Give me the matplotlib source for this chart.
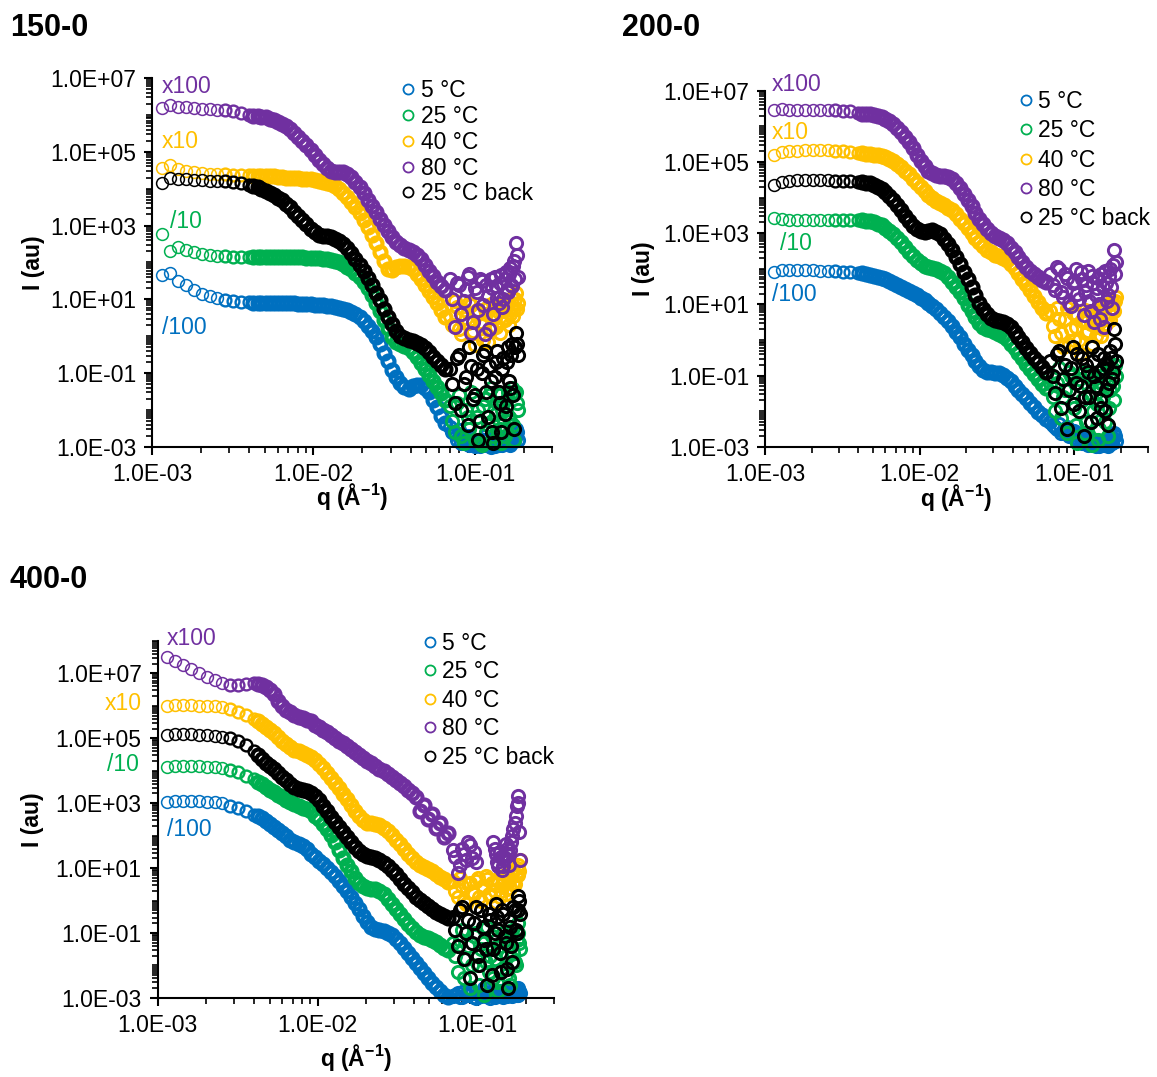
import numpy as np
import matplotlib
matplotlib.use('Agg')
import matplotlib.pyplot as plt
from matplotlib.ticker import FixedLocator, FuncFormatter, NullFormatter

plt.rcParams['font.family'] = ['Liberation Sans', 'DejaVu Sans']
plt.rcParams['mathtext.fontset'] = 'custom'
plt.rcParams['mathtext.rm'] = 'Liberation Sans'
plt.rcParams['mathtext.bf'] = 'Liberation Sans:bold'

nan = float('nan')

# ---------------- data: q (1/Angstrom) and log10 of the plotted intensities ----------------
q_low = [0.00115, 0.00129, 0.00144, 0.00162, 0.00181, 0.00203, 0.00227, 0.00254, 0.00285, 0.00319,
         0.00357, 0.0040]
q_mid = [0.00424, 0.00450, 0.00476, 0.00505, 0.00535, 0.00568, 0.00601, 0.00637, 0.00676, 0.00716,
         0.00759, 0.00805, 0.00853, 0.00904, 0.00959, 0.01016, 0.01076, 0.01140, 0.01211, 0.01282,
         0.01358, 0.01442, 0.01528, 0.01618, 0.01718, 0.01820, 0.01928, 0.02042, 0.02168, 0.02296,
         0.02432, 0.02582, 0.02735, 0.02897, 0.03076, 0.03258, 0.03451, 0.03656, 0.03882, 0.04111,
         0.04355, 0.04624, 0.04898, 0.05188, 0.05508, 0.05834, 0.06180, 0.06546]
q_tail = [0.070, 0.075, 0.080, 0.085, 0.090, 0.095, 0.100, 0.105, 0.110, 0.115, 0.120, 0.125,
          0.130, 0.135, 0.140, 0.145, 0.150, 0.155, 0.160, 0.165, 0.170, 0.175, 0.180, 0.185]
q_tail2 = [0.0725, 0.0775, 0.0825, 0.0875, 0.0925, 0.0975, 0.1025, 0.1075, 0.1125, 0.1175, 0.1225,
           0.1275, 0.1325, 0.1375, 0.1425, 0.1475, 0.1525, 0.1575, 0.1625, 0.1675, 0.1725, 0.1775,
           0.1825]
q_values = q_low + q_mid + q_tail + q_tail2

series_labels = ['5 °C', '25 °C', '40 °C', '80 °C', '25 °C back']
series_colors = ['#0070C0', '#00B050', '#FFC000', '#7030A0', '#000000']

# ---- panel 150-0 ----
logI_150_5C = [1.66, 1.72, 1.50, 1.38, 1.25, 1.15, 1.08, 1.03, 0.98, 0.95, 0.93, 0.92] + \
    [0.91, 0.91, 0.91, 0.90, 0.90, 0.90, 0.90, 0.90, 0.89, 0.89, 0.89, 0.88, 0.88, 0.87, 0.87, 0.86,
     0.85, 0.84, 0.83, 0.81, 0.79, 0.77, 0.74, 0.70, 0.65, 0.59, 0.51, 0.41, 0.29, 0.15, -0.02, -0.22,
     -0.45, -0.68, -0.91, -1.10, -1.26, -1.38, -1.43, -1.36, -1.32, -1.33, -1.40, -1.52, -1.72, -1.93,
     -2.15, -2.35] + \
    [-2.45, -2.65, -2.55, -2.8, -2.7, -2.9, -2.97, -2.85, -2.95, -2.7, -2.9, -2.99, -2.8, -2.9, -2.95,
     -2.75, -2.85, -2.9, -2.7, -2.95, -2.6, -2.85, -2.5, -2.8] + \
    [-2.6, -2.8, -2.9, -2.75, -2.95, -2.85, -2.9, -2.98, -2.8, -2.95, -2.9, -2.85, -2.97, -2.8, -2.9,
     -2.95, -2.85, -2.7, -2.9, -2.8, -2.65, -2.75, -2.6]
logI_150_25C = [2.77, 2.31, 2.42, 2.33, 2.28, 2.24, 2.20, 2.18, 2.17, 2.16, 2.16, 2.16] + \
    [2.16, 2.16, 2.16, 2.16, 2.16, 2.16, 2.15, 2.15, 2.15, 2.15, 2.14, 2.14, 2.14, 2.13, 2.13, 2.12,
     2.11, 2.10, 2.09, 2.07, 2.04, 2.00, 1.95, 1.89, 1.81, 1.72, 1.61, 1.48, 1.32, 1.12, 0.90, 0.68,
     0.45, 0.22, -0.02, -0.15, -0.22, -0.26, -0.32, -0.42, -0.56, -0.72, -0.88, -1.05, -1.22, -1.38,
     -1.55, -1.72] + \
    [-1.9, -2.6, -1.6, -2.9, -2.2, -1.5, -2.8, -2.0, -2.95, -1.7, -2.4, -1.4, -2.7, -2.1, -1.6, -2.9,
     -1.8, -2.5, -1.5, -2.3, -1.4, -2.8, -1.5, -2.0] + \
    [-2.3, -1.8, -2.7, -2.0, -2.5, -1.7, -2.2, -2.9, -1.9, -2.6, -1.6, -2.3, -2.85, -1.8, -2.5, -2.0,
     -2.7, -1.7, -2.2, -1.6, -2.4, -1.5, -1.8]
logI_150_40C = [4.56, 4.64, 4.52, 4.47, 4.44, 4.42, 4.41, 4.40, 4.39, 4.38, 4.37, 4.36] + \
    [4.35, 4.35, 4.34, 4.34, 4.33, 4.33, 4.32, 4.31, 4.30, 4.30, 4.29, 4.28, 4.27, 4.26, 4.25, 4.24,
     4.22, 4.19, 4.16, 4.12, 4.06, 3.98, 3.89, 3.78, 3.65, 3.50, 3.33, 3.15, 2.95, 2.74, 2.52, 2.29,
     2.05, 1.81, 1.80, 1.87, 1.91, 1.91, 1.89, 1.81, 1.69, 1.54, 1.39, 1.24, 1.07, 0.89, 0.71, 0.53] + \
    [0.55, 0.95, 0.20, 0.70, 0.35, 0.85, -0.25, 0.60, 0.30, 0.75, -0.15, 0.55, 0.90, 0.25, 0.65, 0.40,
     0.85, 0.50, 0.95, 0.60, 1.05, 0.75, 1.17, 0.90] + \
    [0.3, 0.8, 0.05, 0.5, 0.9, 0.15, 0.7, 0.4, -0.1, 0.6, 0.85, 0.2, 0.5, 0.8, 0.1, 0.7, 0.45, 0.9,
     0.3, 0.8, 0.55, 1.0, 0.75]
logI_150_80C = [6.19, 6.27, 6.22, 6.20, 6.18, 6.17, 6.15, 6.14, 6.12, 6.10, 6.06, 6.01] + \
    [5.98, 5.96, 5.94, 5.93, 5.90, 5.86, 5.82, 5.76, 5.70, 5.62, 5.52, 5.41, 5.29, 5.17, 5.04, 4.90,
     4.78, 4.66, 4.55, 4.49, 4.46, 4.46, 4.44, 4.40, 4.31, 4.18, 4.04, 3.87, 3.70, 3.53, 3.36, 3.19,
     3.02, 2.85, 2.70, 2.56, 2.46, 2.38, 2.34, 2.28, 2.20, 2.09, 1.93, 1.77, 1.62, 1.48, 1.36, 1.25] + \
    [1.55, 0.25, 1.40, 0.95, 1.60, 0.10, 1.30, 0.70, 1.50, 0.05, 1.10, 1.55, 0.60, 1.35, 0.90, 1.65,
     1.00, 1.75, 1.20, 1.85, 1.35, 2.05, 2.53, 1.60] + \
    [1.0, 1.45, 0.6, 1.25, 1.70, 0.40, 1.20, 1.55, 0.85, 1.40, 0.20, 1.30, 1.60, 1.05, 1.45, 0.80,
     1.55, 1.25, 1.70, 1.40, 1.90, 1.55, 2.20]
logI_150_25Cb = [4.16, 4.30, 4.26, 4.25, 4.24, 4.23, 4.22, 4.21, 4.20, 4.18, 4.15, 4.10] + \
    [4.07, 4.04, 3.99, 3.95, 3.89, 3.83, 3.76, 3.68, 3.59, 3.49, 3.38, 3.27, 3.15, 3.03, 2.92, 2.82,
     2.75, 2.73, 2.71, 2.68, 2.64, 2.57, 2.49, 2.38, 2.25, 2.10, 1.94, 1.77, 1.58, 1.38, 1.18, 0.97,
     0.75, 0.53, 0.33, 0.15, 0.02, -0.06, -0.10, -0.13, -0.17, -0.24, -0.33, -0.43, -0.55, -0.66,
     -0.78, -0.90] + \
    [-0.9, -1.8, -0.5, -1.3, -2.4, -0.8, -1.6, -2.8, -1.0, -0.4, -2.2, -1.2, -2.9, -0.7, -1.5, -2.6,
     -0.6, -1.9, -0.3, -1.4, -0.2, -2.5, 0.1, -0.5] + \
    [-1.3, -0.6, -2.0, -1.1, -0.3, -1.7, -0.9, -2.3, -0.5, -1.5, -0.8, -2.6, -1.1, -0.4, -1.8, -0.9,
     -2.1, -0.7, -1.2, -0.5, -1.6, -0.3, -0.2]

# ---- panel 200-0 ----
logI_200_5C = [1.92, 1.96, 1.96, 1.97, 1.96, 1.96, 1.95, 1.94, 1.93, 1.92, 1.90, 1.88] + \
    [1.87, 1.85, 1.83, 1.80, 1.78, 1.74, 1.70, 1.65, 1.61, 1.55, 1.50, 1.44, 1.38, 1.32, 1.25, 1.19,
     1.11, 1.04, 0.95, 0.86, 0.76, 0.64, 0.52, 0.38, 0.23, 0.07, -0.10, -0.27, -0.43, -0.59, -0.73,
     -0.84, -0.89, -0.91, -0.92, -0.94, -0.99, -1.06, -1.16, -1.28, -1.40, -1.52, -1.64, -1.76, -1.89,
     -2.01, -2.12, -2.23] + \
    [-2.3, -2.45, -2.35, -2.55, -2.45, -2.65, -2.55, -2.75, -2.65, -2.85, -2.75, -2.9, -2.8, -2.95,
     -2.85, -2.98, -2.9, -2.95, -2.8, -2.97, -2.7, -2.9, -2.6, -2.85] + \
    [-2.4, -2.5, -2.6, -2.55, -2.7, -2.6, -2.8, -2.7, -2.9, -2.8, -2.95, -2.85, -2.9, -2.98, -2.85,
     -2.95, -2.9, -2.85, -2.95, -2.8, -2.9, -2.75, -2.7]
logI_200_25C = [3.42, 3.39, 3.38, 3.38, 3.38, 3.38, 3.38, 3.38, 3.38, 3.38, 3.38, 3.37] + \
    [3.37, 3.35, 3.33, 3.30, 3.27, 3.22, 3.15, 3.07, 2.98, 2.86, 2.74, 2.61, 2.48, 2.36, 2.24, 2.15,
     2.08, 2.05, 2.03, 2.00, 1.95, 1.88, 1.78, 1.64, 1.50, 1.34, 1.17, 0.99, 0.81, 0.64, 0.48, 0.37,
     0.30, 0.27, 0.23, 0.18, 0.12, 0.02, -0.10, -0.23, -0.37, -0.52, -0.67, -0.82, -0.97, -1.11,
     -1.24, -1.36] + \
    [-1.2, -2.0, -0.8, -1.6, -2.6, -1.0, -1.9, -2.9, -1.3, -0.9, -2.3, -1.5, -2.95, -1.1, -1.8, -2.5,
     -1.2, -2.0, -0.9, -2.7, -1.4, -0.8, -1.7, -1.0] + \
    [-1.6, -1.2, -2.2, -1.4, -0.9, -1.8, -2.4, -1.1, -1.7, -2.6, -1.3, -0.9, -2.0, -1.5, -2.8, -1.0,
     -1.6, -2.3, -1.2, -1.9, -0.9, -1.3, -0.7]
logI_200_40C = [5.19, 5.28, 5.30, 5.32, 5.33, 5.33, 5.33, 5.33, 5.32, 5.31, 5.29, 5.26] + \
    [5.24, 5.23, 5.22, 5.21, 5.19, 5.17, 5.14, 5.09, 5.03, 4.95, 4.87, 4.76, 4.65, 4.53, 4.41, 4.29,
     4.18, 4.08, 3.99, 3.91, 3.84, 3.79, 3.72, 3.64, 3.54, 3.41, 3.28, 3.15, 3.01, 2.87, 2.74, 2.63,
     2.53, 2.46, 2.40, 2.36, 2.31, 2.24, 2.13, 2.01, 1.87, 1.72, 1.56, 1.40, 1.23, 1.06, 0.90, 0.75] + \
    [0.8, 0.1, 0.6, -0.2, 0.9, 0.3, 0.0, 0.7, -0.4, 0.5, 0.2, 0.8, -0.1, 0.6, 0.35, 0.9, 0.1, 0.7,
     0.45, 1.0, 0.55, 1.1, 0.8, 1.2] + \
    [0.4, 0.9, 0.2, 0.6, -0.1, 0.75, 0.35, 0.0, 0.55, 0.85, 0.25, 0.45, 0.7, 0.1, 0.8, 0.5, 0.3, 0.9,
     0.6, 0.75, 1.0, 0.85, 1.1]
logI_200_80C = [6.45, 6.50, 6.47, 6.46, 6.46, 6.46, 6.46, 6.45, 6.45, 6.44, 6.42, 6.39] + \
    [6.36, 6.35, 6.34, 6.32, 6.29, 6.26, 6.21, 6.15, 6.06, 5.96, 5.84, 5.70, 5.55, 5.38, 5.21, 5.04,
     4.88, 4.76, 4.68, 4.63, 4.61, 4.60, 4.58, 4.51, 4.40, 4.26, 4.10, 3.93, 3.76, 3.58, 3.41, 3.25,
     3.11, 3.00, 2.93, 2.87, 2.81, 2.71, 2.59, 2.46, 2.32, 2.18, 2.05, 1.94, 1.84, 1.76, 1.68, 1.62] + \
    [1.85, 1.40, 2.00, 1.20, 1.75, 0.95, 1.65, 1.30, 1.90, 0.70, 1.55, 1.10, 1.80, 0.50, 1.45, 1.00,
     1.85, 0.35, 1.60, 1.25, 2.00, 0.90, 2.52, 2.20] + \
    [1.55, 2.05, 1.35, 1.85, 1.05, 1.60, 2.00, 1.15, 1.70, 1.35, 1.95, 0.80, 1.60, 1.25, 1.75, 0.60,
     1.50, 1.95, 1.10, 1.80, 1.50, 2.10, 1.85]
logI_200_25Cb = [4.36, 4.44, 4.47, 4.48, 4.48, 4.48, 4.48, 4.48, 4.47, 4.47, 4.46, 4.45] + \
    [4.44, 4.42, 4.40, 4.36, 4.30, 4.24, 4.15, 4.05, 3.93, 3.79, 3.64, 3.49, 3.34, 3.21, 3.11, 3.05,
     3.04, 3.07, 3.08, 3.04, 2.97, 2.85, 2.70, 2.52, 2.33, 2.12, 1.92, 1.70, 1.48, 1.26, 1.05, 0.87,
     0.72, 0.62, 0.57, 0.54, 0.51, 0.45, 0.36, 0.23, 0.08, -0.07, -0.22, -0.36, -0.50, -0.63, -0.76,
     -0.89] + \
    [-0.6, -1.5, -0.3, -1.1, -2.5, -0.8, -1.8, -0.4, -1.3, -2.7, -0.7, -1.6, -0.2, -1.0, -2.2, -0.9,
     -1.9, -0.5, -1.4, -2.4, -0.3, -1.1, 0.3, -0.6] + \
    [-1.0, -0.4, -1.9, -0.7, -1.4, -0.2, -1.2, -2.0, -0.5, -1.6, -0.9, -2.3, -0.6, -1.3, -0.4, -1.7,
     -0.8, -2.0, -0.7, -1.2, -0.5, -0.9, -0.1]

# ---- panel 400-0 ----
logI_400_5C = [3.05, 3.07, 3.07, 3.07, 3.06, 3.05, 3.03, 3.00, 2.92, 2.85, 2.76, 2.65] + \
    [2.60, 2.53, 2.45, 2.37, 2.28, 2.18, 2.08, 1.98, 1.88, 1.80, 1.73, 1.67, 1.60, 1.45, 1.34, 1.23,
     1.12, 1.01, 0.89, 0.75, 0.61, 0.45, 0.29, 0.12, -0.07, -0.26, -0.47, -0.66, -0.81, -0.88, -0.91,
     -0.94, -0.99, -1.07, -1.18, -1.32, -1.46, -1.62, -1.77, -1.92, -2.08, -2.23, -2.39, -2.54,
     -2.67, -2.79, -2.90, -2.98] + \
    [-2.95, -2.85, -2.98, -2.9, -2.8, -2.97, -2.88, -2.95, -2.7, -2.92, -2.99, -2.85, -2.95, -2.9,
     -2.8, -2.97, -2.85, -2.9, -2.75, -2.95, -2.8, -2.9, -2.7, -2.85] + \
    [-2.9, -2.97, -2.8, -2.92, -2.85, -2.99, -2.9, -2.8, -2.95, -2.88, -2.9, -2.97, -2.8, -2.95, -2.9,
     -2.85, -2.95, -2.8, -2.9, -2.85, -2.75, -2.9, -2.8]
logI_400_25C = [4.13, 4.15, 4.15, 4.15, 4.14, 4.13, 4.11, 4.08, 4.02, 3.95, 3.85, 3.75] + \
    [3.66, 3.58, 3.50, 3.42, 3.34, 3.26, 3.18, 3.10, 3.03, 2.97, 2.91, 2.86, 2.81, 2.75, 2.62, 2.50,
     2.36, 2.20, 2.02, 1.80, 1.55, 1.31, 1.10, 0.90, 0.69, 0.53, 0.44, 0.40, 0.37, 0.35, 0.30, 0.20,
     0.05, -0.10, -0.25, -0.40, -0.56, -0.71, -0.85, -0.97, -1.06, -1.11, -1.16, -1.22, -1.29, -1.36,
     -1.45, -1.53] + \
    [-1.3, -2.2, -0.9, -1.8, -2.7, -1.1, -2.0, -1.5, -2.9, -0.8, -1.7, -2.4, -1.2, -2.8, -1.6, -1.0,
     -2.3, -1.4, -2.6, -0.9, -1.9, -1.2, -0.7, -1.5] + \
    [-1.7, -1.2, -2.4, -1.4, -2.0, -1.0, -2.6, -1.3, -1.9, -2.2, -1.1, -1.8, -2.5, -1.4, -2.1, -1.2,
     -1.7, -2.4, -1.1, -1.6, -2.0, -1.0, -1.3]
logI_400_40C = [5.99, 6.02, 6.02, 6.02, 6.01, 6.00, 5.98, 5.95, 5.90, 5.82, 5.72, 5.60] + \
    [5.53, 5.45, 5.36, 5.27, 5.16, 5.05, 4.93, 4.82, 4.72, 4.65, 4.60, 4.55, 4.49, 4.42, 4.32, 4.20,
     4.07, 3.93, 3.78, 3.62, 3.46, 3.29, 3.12, 2.95, 2.77, 2.61, 2.47, 2.40, 2.38, 2.36, 2.32, 2.25,
     2.15, 2.02, 1.88, 1.74, 1.58, 1.44, 1.31, 1.19, 1.10, 1.03, 0.97, 0.90, 0.81, 0.73, 0.65, 0.57] + \
    [0.6, 0.1, 0.45, -0.1, 0.55, 0.2, 0.7, 0.0, 0.4, 0.65, 0.15, 0.5, -0.05, 0.6, 0.3, 0.7, 0.2, 0.75,
     0.4, 0.85, 0.5, 1.0, 0.8, 1.26] + \
    [0.3, 0.7, 0.0, 0.5, 0.25, 0.6, 0.1, 0.45, 0.75, 0.2, 0.55, 0.3, 0.65, 0.1, 0.5, 0.8, 0.35, 0.6,
     0.9, 0.55, 0.8, 1.1, 0.9]
logI_400_80C = [7.49, 7.38, 7.25, 7.12, 7.00, 6.90, 6.80, 6.70, 6.64, 6.64, 6.68, 6.69] + \
    [6.66, 6.63, 6.58, 6.50, 6.35, 6.15, 5.98, 5.88, 5.80, 5.72, 5.66, 5.61, 5.57, 5.53, 5.42, 5.34,
     5.26, 5.18, 5.10, 5.02, 4.93, 4.84, 4.75, 4.66, 4.57, 4.47, 4.39, 4.31, 4.23, 4.15, 4.06, 3.98,
     3.90, 3.81, 3.72, 3.62, 3.52, 3.42, 3.32, 3.20, 2.75, 2.96, 2.50, 2.68, 2.25, 2.38, 1.95, 2.07] + \
    [1.55, 0.85, 1.6, 1.25, 1.7, 1.5, nan, nan, nan, nan, nan, 1.82, 1.45, 1.05, 1.35, 1.05, 1.75, 1.4,
     1.56, 2.0, 2.4, 2.9, 3.21, 1.26] + \
    [1.35, 1.1, 1.45, 1.8, 1.3, 1.2, nan, nan, nan, nan, nan, 1.6, 1.2, 1.5, 0.95, 1.3, 1.6, 1.1, 1.8,
     2.2, 2.6, 3.0, 2.1]
logI_400_25Cb = [5.10, 5.12, 5.12, 5.12, 5.11, 5.10, 5.08, 5.05, 5.00, 4.93, 4.80, 4.60] + \
    [4.47, 4.36, 4.25, 4.15, 4.04, 3.93, 3.82, 3.72, 3.60, 3.50, 3.44, 3.41, 3.38, 3.32, 3.22, 3.10,
     2.90, 2.75, 2.58, 2.42, 2.26, 2.11, 1.95, 1.80, 1.66, 1.53, 1.43, 1.37, 1.34, 1.31, 1.25, 1.17,
     1.07, 0.95, 0.81, 0.67, 0.52, 0.38, 0.25, 0.12, 0.01, -0.09, -0.18, -0.27, -0.34, -0.41, -0.48,
     -0.55] + \
    [-0.5, -1.4, -0.2, -1.0, -2.4, -0.7, -1.7, -0.3, -1.2, -2.6, -0.6, -1.5, -0.1, -0.9, -2.2, -0.4,
     -1.3, -2.7, -0.8, -1.9, -0.3, -1.0, 0.15, -0.4] + \
    [-0.9, -0.3, -1.8, -0.6, -1.3, -0.2, -2.0, -0.8, -1.5, -0.4, -2.3, -1.0, -0.5, -1.6, -0.3, -1.1,
     -2.1, -0.6, -1.4, -0.2, -0.9, -0.3, 0.0]

# ---------------- layout ----------------
W, H = 1157, 1077
fig = plt.figure(figsize=(W / 100, H / 100), dpi=100)

panels = [
    dict(title='150-0', rect=[0.1314, 0.5850, 0.3457, 0.3426], ylim=(1e-3, 1e7),
         data=[logI_150_5C, logI_150_25C, logI_150_40C, logI_150_80C, logI_150_25Cb],
         title_xy=(10, 28),
         ann={'x100': (0.025, 0.978), 'x10': (0.025, 0.829), '/10': (0.045, 0.612), '/100': (0.025, 0.325)},
         ylab_x=-0.2975, xlab_y=-0.1355, leg=(0.626, 0.996), legsp=0.12),
    dict(title='200-0', rect=[0.6612, 0.5852, 0.3310, 0.3305], ylim=(1e-3, 1e7),
         data=[logI_200_5C, logI_200_25C, logI_200_40C, logI_200_80C, logI_200_25Cb],
         title_xy=(622, 28),
         ann={'x100': (0.018, 1.019), 'x10': (0.018, 0.884), '/10': (0.039, 0.572), '/100': (0.018, 0.429)},
         ylab_x=-0.3185, xlab_y=-0.142, leg=(0.666, 1.003), legsp=0.28),
    dict(title='400-0', rect=[0.1363, 0.0734, 0.3425, 0.3315], ylim=(1e-3, 1e8),
         data=[logI_400_5C, logI_400_25C, logI_400_40C, logI_400_80C, logI_400_25Cb],
         title_xy=(10, 580),
         ann={'x100': (0.0235, 1.006), 'x10': (-0.133, 0.826), '/10': (-0.128, 0.653), '/100': (0.0235, 0.473)},
         ylab_x=-0.317, xlab_y=-0.168, leg=(0.672, 1.025), legsp=0.24),
]
ann_color = {'/100': series_colors[0], '/10': series_colors[1], 'x10': series_colors[2], 'x100': series_colors[3]}

FS = 16.5
fmt = FuncFormatter(lambda v, p: f"{v:.1E}")
q_arr = np.array(q_values)
n_low, n_mid = len(q_low), len(q_mid)
# marker styling per q-range: sparse rings at low q, densely overlapping rings elsewhere
segments = [(slice(0, 8), 8.5, 1.1),
            (slice(8, n_low), 8.5, 1.7),
            (slice(n_low, n_low + n_mid), 8.6, 3.0),
            (slice(n_low + n_mid, None), 8.8, 2.1)]

for P in panels:
    ax = fig.add_axes(P['rect'])
    for logs, lab, col in zip(P['data'], series_labels, series_colors):
        assert len(logs) == len(q_values), (lab, len(logs))
        I = 10.0 ** np.array(logs, dtype=float)
        for k, (sl, ms, mew) in enumerate(segments):
            ax.plot(q_arr[sl], I[sl], ls='none', marker='o', ms=ms, mfc='none', mec=col, mew=mew,
                    label=lab if k == 0 else None, clip_on=False)
    ax.set_xscale('log')
    ax.set_yscale('log')
    ax.set_xlim(1e-3, 0.3)
    ax.set_ylim(*P['ylim'])

    ymaj = [1e-3, 1e-1, 1e1, 1e3, 1e5, 1e7]
    lo, hi = int(round(np.log10(P['ylim'][0]))), int(round(np.log10(P['ylim'][1])))
    ymin_t = []
    for e in range(lo, hi):
        for m in range(1, 10):
            v = m * 10.0 ** e
            if m == 1 and v in ymaj:
                continue
            ymin_t.append(v)
    if 10.0 ** hi not in ymaj:
        ymin_t.append(10.0 ** hi)
    ax.yaxis.set_major_locator(FixedLocator(ymaj))
    ax.yaxis.set_minor_locator(FixedLocator(ymin_t))
    ax.yaxis.set_major_formatter(fmt)
    ax.yaxis.set_minor_formatter(NullFormatter())
    xmaj = [1e-3, 1e-2, 1e-1]
    xmin_t = [m * 10.0 ** e for e in (-3, -2, -1) for m in range(2, 10) if m * 10.0 ** e <= 0.3 + 1e-9]
    ax.xaxis.set_major_locator(FixedLocator(xmaj))
    ax.xaxis.set_minor_locator(FixedLocator(xmin_t))
    ax.xaxis.set_major_formatter(fmt)
    ax.xaxis.set_minor_formatter(NullFormatter())

    for s in ('top', 'right'):
        ax.spines[s].set_visible(False)
    for s in ('left', 'bottom'):
        ax.spines[s].set_linewidth(1.5)
    ax.tick_params(which='major', direction='out', length=5.5, width=1.5, labelsize=FS, pad=6)
    ax.tick_params(which='minor', direction='out', length=4, width=1.2)

    ax.text(P['ylab_x'], 0.5, 'I (au)', rotation=90, ha='center', va='center',
            fontsize=FS, fontweight='bold', transform=ax.transAxes)
    ax.text(0.5, P['xlab_y'], r'q (Å$^{\mathbf{-1}}$)', ha='center', va='center',
            fontsize=FS, fontweight='bold', transform=ax.transAxes)

    for key, (ax_x, ax_y) in P['ann'].items():
        ax.text(ax_x, ax_y, key, color=ann_color[key], fontsize=FS, ha='left', va='center',
                transform=ax.transAxes, clip_on=False)

    leg = ax.legend(loc='upper left', bbox_to_anchor=P['leg'], frameon=False, fontsize=FS,
                    handlelength=0.5, handletextpad=0.3, borderpad=0, borderaxespad=0,
                    labelspacing=P['legsp'], markerscale=0.85, numpoints=1)
    for h in leg.legend_handles:
        h.set_markeredgewidth(1.3)

    fig.text(P['title_xy'][0] / W, 1 - P['title_xy'][1] / H, P['title'], fontsize=22,
             fontweight='bold', ha='left', va='center')

fig.savefig('out.png', dpi=100)
